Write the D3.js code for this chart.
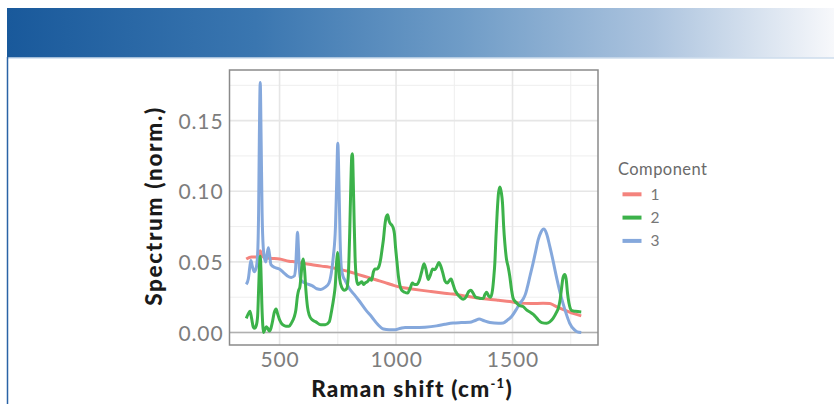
<!DOCTYPE html>
<html><head><meta charset="utf-8">
<script src="https://cdn.jsdelivr.net/npm/d3@7"></script>
<style>body{margin:0;background:#fff}svg{display:block}text{font-family:Lato,"Open Sans",sans-serif}</style>
</head><body><svg id="c" width="834" height="404"></svg>
<script>
// ---- data ----
const seriesNames = ["1","2","3"];
const seriesColors = ["#f4837d","#3cb24a","#85a8dc"];
const comp1 = [[357,0.052],[380,0.0535],[400,0.0535],[410,0.055],[417,0.0578],[423,0.055],[435,0.053],[460,0.0525],[500,0.052],[540,0.0505],[570,0.050],[600,0.049],[640,0.048],[680,0.047],[713,0.0463],[750,0.045],[800,0.043],[839,0.041],[880,0.039],[920,0.037],[950,0.0355],[982,0.0338],[1020,0.032],[1060,0.031],[1103,0.030],[1150,0.029],[1200,0.028],[1245,0.0272],[1300,0.0258],[1350,0.0245],[1389,0.0237],[1440,0.0228],[1488,0.022],[1531,0.0208],[1580,0.0205],[1631,0.0207],[1660,0.0205],[1680,0.019],[1703,0.0173],[1730,0.0155],[1760,0.0135],[1795,0.0118]];
const comp2 = [[357,0.010],[365,0.013],[373,0.015],[380,0.010],[387,0.004],[392,0.003],[400,0.005],[406,0.012],[410,0.030],[414,0.048],[417,0.054],[420,0.045],[424,0.020],[428,0.005],[431,0.0],[437,0.002],[443,0.004],[449,0.003],[456,0.001],[463,0.003],[470,0.008],[477,0.014],[485,0.0166],[492,0.013],[500,0.009],[513,0.0055],[527,0.0045],[541,0.0045],[552,0.007],[563,0.011],[570,0.016],[577,0.026],[582,0.030],[587,0.032],[592,0.040],[597,0.049],[602,0.052],[607,0.045],[613,0.030],[620,0.018],[627,0.0125],[640,0.009],[656,0.0075],[677,0.0055],[696,0.0055],[713,0.0075],[724,0.016],[733,0.025],[739,0.033],[745,0.050],[749,0.0567],[753,0.050],[758,0.038],[767,0.032],[778,0.030],[788,0.031],[795,0.040],[801,0.070],[806,0.105],[810,0.125],[813,0.1266],[816,0.110],[820,0.080],[824,0.054],[830,0.038],[836,0.034],[845,0.035],[853,0.036],[860,0.034],[867,0.035],[877,0.036],[888,0.038],[895,0.037],[903,0.043],[910,0.045],[918,0.045],[927,0.047],[935,0.053],[941,0.060],[946,0.066],[952,0.076],[958,0.082],[964,0.0834],[970,0.079],[976,0.077],[982,0.076],[988,0.074],[993,0.070],[998,0.060],[1004,0.050],[1010,0.040],[1017,0.033],[1024,0.030],[1037,0.0285],[1050,0.028],[1060,0.031],[1070,0.035],[1080,0.034],[1089,0.034],[1100,0.037],[1110,0.043],[1120,0.0487],[1128,0.045],[1138,0.0375],[1148,0.041],[1157,0.045],[1167,0.0445],[1176,0.047],[1184,0.0496],[1192,0.047],[1201,0.042],[1210,0.0365],[1220,0.035],[1230,0.037],[1236,0.0378],[1245,0.034],[1253,0.030],[1260,0.028],[1275,0.025],[1288,0.0235],[1300,0.025],[1312,0.029],[1321,0.030],[1330,0.028],[1342,0.025],[1353,0.0245],[1365,0.024],[1374,0.024],[1382,0.027],[1389,0.0285],[1397,0.026],[1406,0.025],[1414,0.030],[1420,0.040],[1424,0.049],[1429,0.068],[1434,0.0846],[1440,0.099],[1446,0.103],[1452,0.099],[1457,0.0916],[1462,0.075],[1467,0.0633],[1474,0.052],[1481,0.0467],[1488,0.040],[1496,0.030],[1503,0.024],[1517,0.021],[1530,0.019],[1545,0.0184],[1560,0.016],[1575,0.0145],[1588,0.013],[1600,0.011],[1610,0.009],[1625,0.007],[1646,0.0065],[1660,0.0075],[1674,0.010],[1688,0.014],[1698,0.018],[1705,0.024],[1711,0.032],[1717,0.039],[1724,0.041],[1730,0.038],[1736,0.028],[1742,0.021],[1748,0.017],[1755,0.0155],[1770,0.015],[1795,0.0145]];
const comp3 = [[357,0.034],[366,0.038],[372,0.046],[377,0.051],[383,0.047],[391,0.043],[400,0.046],[406,0.056],[410,0.085],[413,0.135],[417,0.177],[421,0.135],[425,0.085],[430,0.060],[436,0.052],[441,0.050],[446,0.055],[452,0.060],[457,0.055],[463,0.048],[480,0.046],[499,0.045],[520,0.042],[534,0.040],[550,0.039],[563,0.040],[569,0.046],[573,0.060],[577,0.071],[581,0.060],[585,0.045],[592,0.037],[610,0.035],[641,0.033],[660,0.031],[677,0.0305],[695,0.032],[712,0.035],[722,0.042],[731,0.054],[740,0.075],[745,0.105],[750,0.134],[755,0.105],[760,0.065],[765,0.046],[772,0.040],[781,0.037],[800,0.031],[820,0.027],[839,0.023],[870,0.016],[896,0.011],[920,0.006],[946,0.0025],[970,0.002],[996,0.002],[1020,0.003],[1039,0.0035],[1080,0.0035],[1124,0.0038],[1174,0.0047],[1210,0.0058],[1245,0.0067],[1280,0.007],[1317,0.0072],[1340,0.0085],[1357,0.0095],[1375,0.0085],[1403,0.0071],[1440,0.0066],[1460,0.0068],[1480,0.009],[1496,0.0113],[1515,0.016],[1531,0.0205],[1545,0.0235],[1555,0.027],[1562,0.031],[1575,0.040],[1588,0.049],[1600,0.058],[1610,0.0655],[1622,0.071],[1634,0.0732],[1646,0.070],[1660,0.061],[1675,0.050],[1688,0.0397],[1703,0.029],[1717,0.0205],[1731,0.013],[1745,0.0067],[1765,0.002],[1778,0.0005],[1795,0.0]];
const xMajorTicks = [500,1000,1500];
const xMinorTicks = [750,1250,1750];
const yMajorTicks = [0,0.05,0.10,0.15];
const yMinorTicks = [0.025,0.075,0.125,0.175];
const yTickLabels = ["0.00","0.05","0.10","0.15"];
const xTickLabels = ["500","1000","1500"];

// ---- layout ----
const svg = d3.select("#c");
const P = {l:229.5, r:598, t:70, b:345};
const all = comp1.concat(comp2, comp3);
const xe = d3.extent(all, d=>d[0]), ye = d3.extent(all, d=>d[1]);
const xp = (xe[1]-xe[0])*0.05, yp = (ye[1]-ye[0])*0.05;
const x = d3.scaleLinear().domain([xe[0]-xp, xe[1]+xp]).range([P.l, P.r]);
const y = d3.scaleLinear().domain([ye[0]-yp, ye[1]+yp]).range([P.b, P.t]);

// fit a text's width by (small) letter spacing
function fit(sel, target){
  const node = sel.node();
  const w = node.getBBox().width;
  const n = node.textContent.length;
  if (w > 0 && n > 1) sel.style("letter-spacing", ((target - w)/(n-1)) + "px");
}

// header band
const defs = svg.append("defs");
const g = defs.append("linearGradient").attr("id","hdr");
[[0,"#19599b"],[0.3,"#3a76b0"],[0.55,"#6f9cc7"],[0.78,"#abc3de"],[1,"#f7f8fb"]].forEach(s=>g.append("stop").attr("offset",s[0]).attr("stop-color",s[1]));
svg.append("rect").attr("x",7).attr("y",8).attr("width",827).attr("height",49.5).attr("fill","url(#hdr)");
svg.append("line").attr("x1",8).attr("x2",834).attr("y1",58).attr("y2",58).attr("stroke","#b4cbe3").attr("stroke-width",1);
svg.append("line").attr("x1",7.5).attr("x2",7.5).attr("y1",57).attr("y2",404).attr("stroke","#2a63a6").attr("stroke-width",1.5);

// grid
const grid = svg.append("g");
grid.selectAll(".xm").data(xMinorTicks).join("line").attr("x1",d=>x(d)).attr("x2",d=>x(d)).attr("y1",P.t).attr("y2",P.b).attr("stroke","#eeeeee").attr("stroke-width",1);
grid.selectAll(".ym").data(yMinorTicks).join("line").attr("y1",d=>y(d)).attr("y2",d=>y(d)).attr("x1",P.l).attr("x2",P.r).attr("stroke","#eeeeee").attr("stroke-width",1);
grid.selectAll(".xM").data(xMajorTicks).join("line").attr("x1",d=>x(d)).attr("x2",d=>x(d)).attr("y1",P.t).attr("y2",P.b).attr("stroke","#e6e6e6").attr("stroke-width",1.6);
grid.selectAll(".yM").data(yMajorTicks).join("line").attr("y1",d=>y(d)).attr("y2",d=>y(d)).attr("x1",P.l).attr("x2",P.r).attr("stroke","#e6e6e6").attr("stroke-width",1.6);
svg.append("line").attr("x1",P.l).attr("x2",P.r).attr("y1",y(0)).attr("y2",y(0)).attr("stroke","#b0b0b0").attr("stroke-width",1.3);

// lines
const line = d3.line().x(d=>x(d[0])).y(d=>y(d[1])).curve(d3.curveMonotoneX);
const data = [comp1, comp3, comp2];
const colIdx = [0,2,1];
svg.append("g").selectAll("path").data(data).join("path")
  .attr("d", line).attr("fill","none")
  .attr("stroke",(d,i)=>seriesColors[colIdx[i]]).attr("stroke-width",3).attr("stroke-linejoin","round");

// border
svg.append("rect").attr("x",P.l).attr("y",P.t).attr("width",P.r-P.l).attr("height",P.b-P.t).attr("fill","none").attr("stroke","#8a8a8a").attr("stroke-width",1.5);

// axes (labels only)
const xAxis = d3.axisBottom(x).tickValues(xMajorTicks).tickFormat((d,i)=>xTickLabels[i]).tickSize(0).tickPadding(0);
const gx = svg.append("g").attr("transform",`translate(0,${P.b})`).call(xAxis);
gx.select(".domain").remove();
gx.selectAll("text").attr("y",21.7).attr("dy",null).attr("fill","#7d7d7d").style("font-size","21px").style("font-family","Lato").style("letter-spacing","0.9px");
const yAxis = d3.axisLeft(y).tickValues(yMajorTicks).tickFormat((d,i)=>yTickLabels[i]).tickSize(0).tickPadding(0);
const gy = svg.append("g").attr("transform",`translate(${P.l-6},0)`).call(yAxis);
gy.select(".domain").remove();
gy.selectAll("text").attr("dy","0.36em").attr("fill","#7d7d7d").style("font-size","21px").style("font-family","Lato").style("letter-spacing","0.9px");

// axis titles
const yt = svg.append("text").attr("transform",`translate(162,206) rotate(-90)`).attr("text-anchor","middle")
  .style("font-size","22.5px").style("font-weight","900").attr("fill","#1a1a1a").text("Spectrum (norm.)");
fit(yt, 198);
const xt = svg.append("text").attr("x",412).attr("y",397).attr("text-anchor","middle")
  .style("font-size","22.5px").style("font-weight","900").attr("fill","#1a1a1a");
xt.append("tspan").text("Raman shift (cm");
xt.append("tspan").attr("dy",-9).style("font-size","13px").text("-1");
xt.append("tspan").attr("dy",9).text(")");
fit(xt, 200);

// legend
const lg = svg.append("g");
const lt = lg.append("text").attr("x",618).attr("y",175).attr("fill","#6a6a6a").style("font-size","16.5px").text("Component");
fit(lt, 89);
const ly = [194.3, 217.6, 240.9];
seriesNames.forEach((n,i)=>{
  lg.append("line").attr("x1",622.5).attr("x2",641.5).attr("y1",ly[i]).attr("y2",ly[i]).attr("stroke",seriesColors[i]).attr("stroke-width",4);
  lg.append("text").attr("x",650.5).attr("y",ly[i]+5.5).attr("fill","#777").style("font-size","15.5px").text(n);
});
</script></body></html>
